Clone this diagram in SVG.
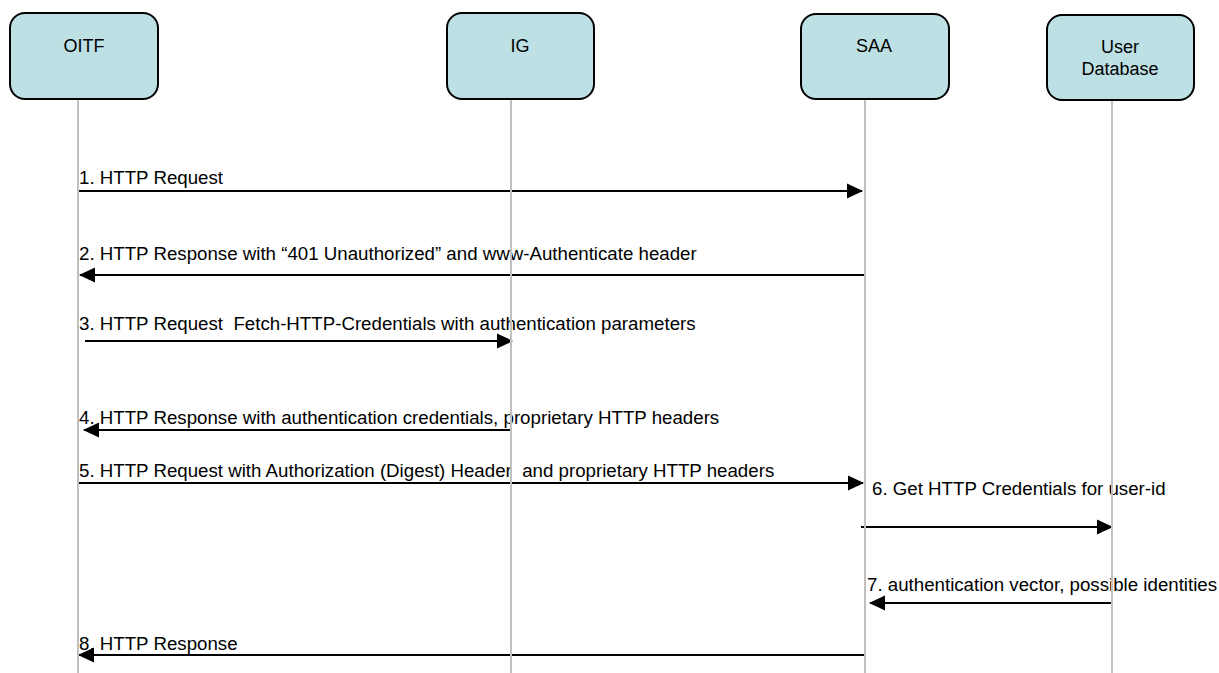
<svg xmlns="http://www.w3.org/2000/svg" width="1219" height="673" viewBox="0 0 1219 673">
<style>
.box{fill:#bce0e3;stroke:#000;stroke-width:2}
.lbl{font-family:"Liberation Sans",Arial,sans-serif;font-size:18px;fill:#000;text-anchor:middle}
.msg{font-family:"Liberation Sans",Arial,sans-serif;font-size:18.7px;fill:#000;white-space:pre}
.arr{stroke:#000;stroke-width:2;fill:none;marker-end:url(#ah)}
.life{stroke:#c0c0c0;stroke-width:2}
</style>
<defs>
<marker id="ah" markerUnits="userSpaceOnUse" markerWidth="16" markerHeight="16" viewBox="0 0 16 16" refX="15" refY="8" orient="auto">
<path d="M0,0.5 L16,8 L0,15.5 Z" fill="#000"/>
</marker>
</defs>
<rect width="1219" height="673" fill="#fff"/>
<g id="OITF"><rect class="box" x="10" y="13" width="148" height="86" rx="15"/><text class="lbl" x="84" y="52">OITF</text></g>
<g id="IG"><rect class="box" x="447" y="13" width="147" height="86" rx="15"/><text class="lbl" x="520" y="52">IG</text></g>
<g id="SAA"><rect class="box" x="801" y="14" width="148" height="85" rx="15"/><text class="lbl" x="874" y="52">SAA</text></g>
<g id="UserDatabase"><rect class="box" x="1047" y="15" width="147" height="85" rx="15"/><text class="lbl" x="1120" y="53">User</text><text class="lbl" x="1120" y="75">Database</text></g>
<g id="labels">
<text class="msg" x="79" y="184">1. HTTP Request</text>
<text class="msg" x="79" y="260">2. HTTP Response with “401 Unauthorized” and www-Authenticate header</text>
<text class="msg" x="79" y="330" xml:space="preserve">3. HTTP Request  Fetch-HTTP-Credentials with authentication parameters</text>
<text class="msg" x="79" y="424">4. HTTP Response with authentication credentials, proprietary HTTP headers</text>
<text class="msg" x="79" y="477" xml:space="preserve">5. HTTP Request with Authorization (Digest) Header  and proprietary HTTP headers</text>
<text class="msg" x="872" y="495">6. Get HTTP Credentials for user-id</text>
<text class="msg" x="867" y="591">7. authentication vector, possible identities</text>
<text class="msg" x="79" y="650">8. HTTP Response</text>
</g>
<g id="connectors">
<line class="arr" x1="79" y1="191" x2="862" y2="191"/>
<line class="arr" x1="865" y1="275" x2="80" y2="275"/>
<line class="arr" x1="85" y1="341" x2="512" y2="341"/>
<line class="arr" x1="511" y1="430" x2="84" y2="430"/>
<line class="arr" x1="79" y1="483" x2="863" y2="483"/>
<line class="arr" x1="861" y1="527" x2="1112" y2="527"/>
<line class="arr" x1="1113" y1="603" x2="870" y2="603"/>
<line class="arr" x1="865" y1="655" x2="79" y2="655"/>
</g>
<g id="lifelines">
<line class="life" x1="78" y1="100" x2="78" y2="673"/>
<line class="life" x1="511" y1="100" x2="511" y2="673"/>
<line class="life" x1="865" y1="100" x2="865" y2="673"/>
<line class="life" x1="1112" y1="101" x2="1112" y2="673"/>
</g>
</svg>
